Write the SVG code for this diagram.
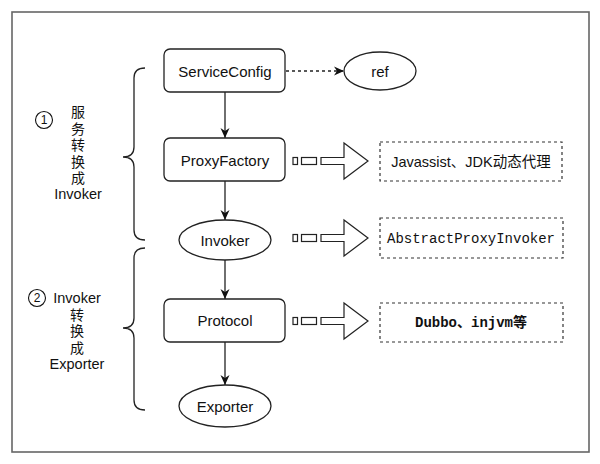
<svg xmlns="http://www.w3.org/2000/svg" width="600" height="464" viewBox="0 0 600 464">
<style>
.box{fill:#fff;stroke:#222;stroke-width:1.3}
.ell{fill:#fff;stroke:#222;stroke-width:1.3}
.t{font-family:"Liberation Sans",Arial,sans-serif;font-size:15px;fill:#111;text-anchor:middle;dominant-baseline:central}
.s{font-family:"Liberation Sans",Arial,sans-serif;font-size:14.5px;fill:#111;text-anchor:middle;dominant-baseline:central}
.m{font-family:"Liberation Mono","Noto Sans CJK SC",monospace;font-size:14px;fill:#111;text-anchor:middle;dominant-baseline:central}
.cjk{font-family:"Liberation Sans","Noto Sans CJK SC",sans-serif;font-size:14px;fill:#111;text-anchor:middle;dominant-baseline:central}
.dash{fill:#fff;stroke:#333;stroke-width:1.2;stroke-dasharray:3 3}
.ln{stroke:#222;stroke-width:1.3;fill:none}
.hol{fill:#fff;stroke:#222;stroke-width:1.2}
.br{fill:none;stroke:#222;stroke-width:1.3}
</style>
<defs>
<marker id="ah" viewBox="0 0 10 10" refX="10" refY="5" markerWidth="10" markerHeight="10" markerUnits="userSpaceOnUse" orient="auto">
<path d="M0,0.5 L10,5 L0,9.5 L3,5 Z" fill="#111"/>
</marker>
</defs>
<rect width="600" height="464" fill="#fff"/>
<rect x="12" y="12" width="577" height="440" fill="none" stroke="#666" stroke-width="1.6"/>

<g id="connectors">
<line class="ln" x1="225" y1="92" x2="225" y2="138" marker-end="url(#ah)"/>
<line class="ln" x1="225" y1="181" x2="225" y2="220" marker-end="url(#ah)"/>
<line class="ln" x1="225" y1="260" x2="225" y2="299" marker-end="url(#ah)"/>
<line class="ln" x1="225" y1="342" x2="225" y2="385" marker-end="url(#ah)"/>
<line class="ln" x1="286" y1="71" x2="344" y2="71" stroke-dasharray="3 3" marker-end="url(#ah)"/>
</g>

<g id="ServiceConfig"><rect class="box" x="164" y="49" width="121" height="43" rx="6"/><text class="t" x="225" y="71">ServiceConfig</text></g>
<g id="ref"><ellipse class="ell" cx="380" cy="71" rx="36" ry="19"/><text class="t" x="380" y="71">ref</text></g>
<g id="ProxyFactory"><rect class="box" x="164" y="138" width="121" height="43" rx="6"/><text class="t" x="225" y="160">ProxyFactory</text></g>
<g id="Invoker"><ellipse class="ell" cx="225" cy="240" rx="46" ry="20"/><text class="t" x="225" y="240">Invoker</text></g>
<g id="Protocol"><rect class="box" x="164" y="299" width="121" height="43" rx="6"/><text class="t" x="225" y="320">Protocol</text></g>
<g id="Exporter"><ellipse class="ell" cx="225" cy="406" rx="46" ry="21"/><text class="t" x="225" y="406">Exporter</text></g>

<g id="impl1">
<rect class="hol" x="293" y="157.5" width="4.5" height="7"/>
<rect class="hol" x="301.5" y="157.5" width="15" height="7"/>
<polygon class="hol" points="321,157.5 344,157.5 344,143 368,161 344,179 344,164.5 321,164.5"/>
<rect class="dash" x="380" y="142" width="182" height="39"/>
<text class="cjk" x="471" y="161.5" style="font-size:14.5px">Javassist、JDK动态代理</text>
</g>
<g id="impl2">
<rect class="hol" x="293" y="234.5" width="4.5" height="7"/>
<rect class="hol" x="301.5" y="234.5" width="15" height="7"/>
<polygon class="hol" points="321,234.5 344,234.5 344,220 368,238 344,256 344,241.5 321,241.5"/>
<rect class="dash" x="380" y="218" width="183" height="40"/>
<text class="m" x="471" y="239">AbstractProxyInvoker</text>
</g>
<g id="impl3">
<rect class="hol" x="293" y="317.5" width="4.5" height="7"/>
<rect class="hol" x="301.5" y="317.5" width="15" height="7"/>
<polygon class="hol" points="321,317.5 344,317.5 344,303 368,321 344,339 344,324.5 321,324.5"/>
<rect class="dash" x="380" y="303" width="183" height="39"/>
<text class="m" x="471" y="323" font-weight="bold">Dubbo、injvm等</text>
</g>

<g id="bracket1">
<path class="br" d="M145,68 Q134,68 134,78 L134,147 Q134,157 123,157 Q134,157 134,167 L134,230 Q134,240 145,240"/>
</g>
<g id="bracket2">
<path class="br" d="M145,248 Q134,248 134,258 L134,318 Q134,328 123,328 Q134,328 134,338 L134,400 Q134,410 145,410"/>
</g>

<g id="label1">
<circle cx="44" cy="120" r="8.5" fill="none" stroke="#111" stroke-width="1.1"/>
<text class="s" x="44" y="120" style="font-size:12px">1</text>
<text class="cjk" x="78" y="112">服</text>
<text class="cjk" x="78" y="128.5">务</text>
<text class="cjk" x="78" y="145">转</text>
<text class="cjk" x="78" y="161.5">换</text>
<text class="cjk" x="78" y="178">成</text>
<text class="s" x="78" y="194">Invoker</text>
</g>
<g id="label2">
<circle cx="37" cy="298" r="8.5" fill="none" stroke="#111" stroke-width="1.1"/>
<text class="s" x="37" y="298" style="font-size:12px">2</text>
<text class="s" x="77" y="298">Invoker</text>
<text class="cjk" x="77" y="314.5">转</text>
<text class="cjk" x="77" y="331">换</text>
<text class="cjk" x="77" y="347.5">成</text>
<text class="s" x="77" y="364">Exporter</text>
</g>
</svg>
